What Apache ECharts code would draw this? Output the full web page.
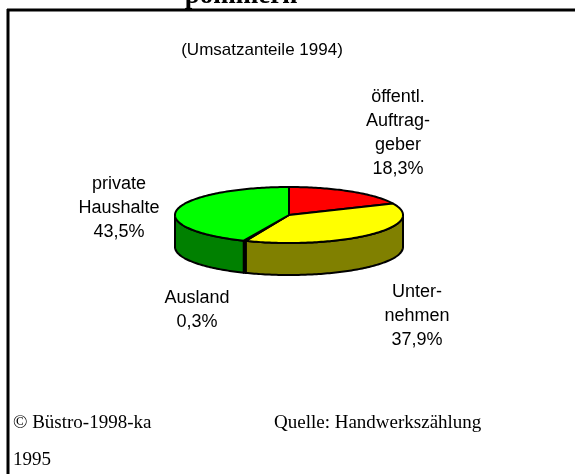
<!DOCTYPE html>
<html>
<head>
<meta charset="utf-8">
<script src="https://cdn.jsdelivr.net/npm/echarts@6/dist/echarts.min.js"></script>
<style>
  html, body { margin: 0; padding: 0; background: #fff; }
  #chart { width: 575px; height: 474px; }
</style>
</head>
<body>
<div id="chart"></div>
<script>
// Umsatzanteile 1994
var categories = ['öffentl. Auftraggeber', 'Unternehmen', 'Ausland', 'private Haushalte'];
var values = [18.3, 37.9, 0.3, 43.5];
var labelLines = [['öffentl.', 'Auftrag-', 'geber'], ['Unter-', 'nehmen'], ['Ausland'], ['private', 'Haushalte']];

// Farben: Deckfläche / Seitenfläche
var topColors = ['#ff0000', '#ffff00', '#0000ff', '#00ff00'];
var sideColors = ['#800000', '#808000', '#000080', '#008000'];

// layout of the 3d pie
var cx = 289, cy = 215, rx = 114, ry = 28, depth = 32;
var labelPos = [[398, 133], [417, 316], [197, 310], [119, 208]];

var sans = 'Liberation Sans, Arial, sans-serif';
var serif = 'Liberation Serif, Times New Roman, serif';

(function () {
  var total = values.reduce(function (s, v) { return s + v; }, 0);
  var acc = 0;
  var pieData = values.map(function (v, i) {
    var item = { name: categories[i], value: [acc, acc + v, i] };
    acc += v;
    return item;
  });

  function pt(t, dy) {
    return [cx + rx * Math.sin(t), cy - ry * Math.cos(t) + (dy || 0)];
  }

  function arc(t0, t1, dy) {
    var pts = [];
    var n = Math.max(2, Math.ceil((t1 - t0) / 0.02));
    for (var k = 0; k <= n; k++) {
      pts.push(pt(t0 + (t1 - t0) * k / n, dy));
    }
    return pts;
  }

  function renderItem(params, api) {
    var i = api.value(2);
    var a0 = api.value(0) / total * Math.PI * 2;
    var a1 = api.value(1) / total * Math.PI * 2;
    var children = [];

    // front side (angles between 90 and 270 deg, clockwise from top)
    var s = Math.max(a0, Math.PI / 2), e = Math.min(a1, Math.PI * 1.5);
    if (e > s) {
      var side = arc(s, e, 0).concat(arc(s, e, depth).reverse());
      children.push({
        type: 'polygon', z2: 1,
        shape: { points: side },
        style: { fill: sideColors[i], stroke: '#000', lineWidth: 2, lineJoin: 'round' }
      });
    }

    // top face
    var top = [[cx, cy]].concat(arc(a0, a1, 0));
    children.push({
      type: 'polygon', z2: 2,
      shape: { points: top },
      style: { fill: topColors[i], stroke: '#000', lineWidth: 2, lineJoin: 'round' }
    });

    var pct = values[i].toFixed(1).replace('.', ',') + '%';
    children.push({
      type: 'text', z2: 3,
      style: {
        text: labelLines[i].concat([pct]).join('\n'),
        x: labelPos[i][0], y: labelPos[i][1],
        align: 'center', verticalAlign: 'middle',
        fontSize: 18, fontFamily: sans, lineHeight: 24, fill: '#000'
      }
    });
    return { type: 'group', children: children };
  }

  var chart = echarts.init(document.getElementById('chart'));
  var option = {
    animation: false,
    backgroundColor: '#fff',
    graphic: [
      { type: 'line', shape: { x1: 7, y1: 10, x2: 575, y2: 10 }, style: { stroke: '#000', lineWidth: 3 } },
      { type: 'line', shape: { x1: 8, y1: 9, x2: 8, y2: 474 }, style: { stroke: '#000', lineWidth: 3 } },
      {
        type: 'text', x: 241, y: -4,
        style: { text: 'pommern', align: 'center', verticalAlign: 'middle', fontSize: 27, fontWeight: 'bold', fontFamily: serif, fill: '#000' }
      },
      {
        type: 'text', x: 262, y: 50,
        style: { text: '(Umsatzanteile 1994)', align: 'center', verticalAlign: 'middle', fontSize: 17, fontFamily: sans, fill: '#000' }
      },
      {
        type: 'text', x: 13, y: 423,
        style: { text: '© Büstro-1998-ka', align: 'left', verticalAlign: 'middle', fontSize: 19, fontFamily: serif, fill: '#000' }
      },
      {
        type: 'text', x: 274, y: 423,
        style: { text: 'Quelle: Handwerkszählung', align: 'left', verticalAlign: 'middle', fontSize: 19, fontFamily: serif, fill: '#000' }
      },
      {
        type: 'text', x: 13, y: 460,
        style: { text: '1995', align: 'left', verticalAlign: 'middle', fontSize: 19, fontFamily: serif, fill: '#000' }
      }
    ],
    series: [{
      type: 'custom',
      coordinateSystem: 'none',
      renderItem: renderItem,
      data: pieData
    }]
  };
  chart.setOption(option);
})();
</script>
</body>
</html>
